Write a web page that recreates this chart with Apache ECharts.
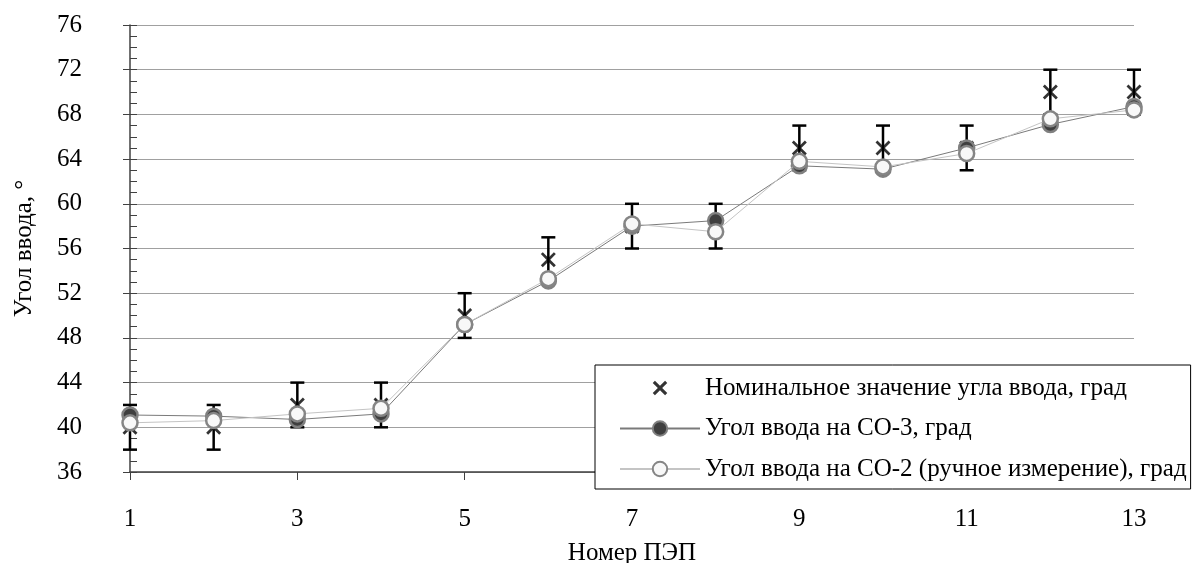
<!DOCTYPE html>
<html>
<head>
<meta charset="utf-8">
<script src="https://cdn.jsdelivr.net/npm/echarts@6/dist/echarts.min.js"></script>
<style>
html,body{margin:0;padding:0;background:#fff;}
#chart{width:1193px;height:563px;}
</style>
</head>
<body>
<div id="chart"></div>
<script>
var pepNumbers = [1,2,3,4,5,6,7,8,9,10,11,12,13];
var nominal = [40,40,42,42,50,55,58,58,65,65,65,70,70];
var tolerance = [2,2,2,2,2,2,2,2,2,2,2,2,2];
var co3 = [41.1,41.0,40.7,41.2,49.2,53.1,58.0,58.5,63.4,63.1,65.0,67.1,68.7];
var co2 = [40.4,40.6,41.2,41.7,49.2,53.3,58.2,57.5,63.8,63.3,64.5,67.6,68.4];
var xTicks = [1,3,5,7,9,11,13];
var yTicks = [36,40,44,48,52,56,60,64,68,72,76];

var nameNominal = 'Номинальное значение угла ввода, град';
var nameCO3 = 'Угол ввода на СО-3, град';
var nameCO2 = 'Угол ввода на СО-2 (ручное измерение), град';

var FONT = 'Liberation Serif';
var xPath = 'path://M0,1.3 L1.3,0 L5,3.7 L8.7,0 L10,1.3 L6.3,5 L10,8.7 L8.7,10 L5,6.3 L1.3,10 L0,8.7 L3.7,5 Z';
var xPathLegend = 'path://M-1.2,-1.2 L-1.19,-1.2 L-1.2,-1.19 Z M11.2,11.2 L11.19,11.2 L11.2,11.19 Z M0,1.5 L1.5,0 L5,3.5 L8.5,0 L10,1.5 L6.5,5 L10,8.5 L8.5,10 L5,6.5 L1.5,10 L0,8.5 L3.5,5 Z';

function pairs(xs, ys){ return xs.map(function(x,i){ return [x, ys[i]]; }); }
var errData = pepNumbers.map(function(x,i){ return [x, nominal[i]-tolerance[i], nominal[i]+tolerance[i]]; });

var chart = echarts.init(document.getElementById('chart'), null, {renderer:'canvas'});
chart.setOption({
  animation:false,
  backgroundColor:'#fff',
  textStyle:{fontFamily:FONT},
  grid:{left:130, right:59, top:25, bottom:91, containLabel:false, outerBoundsMode:'none'},
  legend:{
    orient:'vertical', left:595, top:365,
    padding:[10.5,4,7.5,24],
    itemWidth:80, itemHeight:18, itemGap:15.5,
    backgroundColor:'#fff', borderColor:'#000', borderWidth:1, borderRadius:0,
    textStyle:{fontFamily:FONT, fontSize:25, color:'#000', padding:[0,0,0,0]},
    data:[
      {name:nameNominal, icon:xPathLegend},
      {name:nameCO3},
      {name:nameCO2}
    ],
    z:10
  },
  xAxis:{
    type:'value', min:1, max:13, interval:2,
    name:'Номер ПЭП', nameLocation:'middle', nameGap:69,
    nameTextStyle:{fontFamily:FONT, fontSize:25, color:'#000'},
    axisLine:{show:true, onZero:false, lineStyle:{color:'#404040', width:1.5}},
    axisTick:{show:true, inside:false, length:8, lineStyle:{color:'#404040', width:1}},
    axisLabel:{fontFamily:FONT, fontSize:25, color:'#000', margin:35},
    splitLine:{show:false}
  },
  yAxis:[{
    type:'value', min:36, max:76, interval:4,
    name:'Угол ввода, °', nameLocation:'middle', nameGap:93,
    nameTextStyle:{fontFamily:FONT, fontSize:25, color:'#000'},
    axisLine:{show:true, lineStyle:{color:'#404040', width:1.5}},
    axisTick:{show:true, inside:true, length:7, lineStyle:{color:'#404040', width:1}},
    minorTick:{show:true, splitNumber:4, length:7, lineStyle:{color:'#404040', width:1}},
    axisLabel:{fontFamily:FONT, fontSize:25, color:'#000', margin:48,
      formatter:function(v){ return yTicks.indexOf(v) >= 0 ? String(v) : ''; }},
    splitLine:{show:true, lineStyle:{color:'#a0a0a0', width:1}}
  },{
    type:'value', min:36, max:76, interval:4, position:'left', offset:0,
    axisLine:{show:false},
    axisTick:{show:true, inside:false, length:7, lineStyle:{color:'#404040', width:1}},
    axisLabel:{show:false},
    splitLine:{show:false}
  }],
  series:[
    {
      name:'errbars', type:'custom', z:2,
      data:errData,
      encode:{x:0, y:[1,2]},
      renderItem:function(params, api){
        var x = api.value(0), lo = api.value(1), hi = api.value(2);
        var p1 = api.coord([x, lo]), p2 = api.coord([x, hi]);
        var st = {stroke:'#000', lineWidth:2.5};
        var hw = 7;
        return {type:'group', children:[
          {type:'line', shape:{x1:p1[0], y1:p1[1], x2:p2[0], y2:p2[1]}, style:st},
          {type:'line', shape:{x1:p1[0]-hw, y1:p1[1], x2:p1[0]+hw, y2:p1[1]}, style:st},
          {type:'line', shape:{x1:p2[0]-hw, y1:p2[1], x2:p2[0]+hw, y2:p2[1]}, style:st}
        ]};
      },
      silent:true
    },
    {
      name:nameNominal, type:'scatter', z:3,
      data:pairs(pepNumbers, nominal),
      symbol:xPath, symbolSize:15, symbolKeepAspect:true,
      itemStyle:{color:'#000'}
    },
    {
      name:nameCO3, type:'line', z:4,
      data:pairs(pepNumbers, co3),
      symbol:'circle', symbolSize:15, showAllSymbol:true,
      lineStyle:{color:'#7a7a7a', width:1},
      itemStyle:{color:'#3f3f3f', borderColor:'#808080', borderWidth:2.5}
    },
    {
      name:nameCO2, type:'line', z:5,
      data:pairs(pepNumbers, co2),
      symbol:'circle', symbolSize:15, showAllSymbol:true,
      lineStyle:{color:'#c4c4c4', width:1},
      itemStyle:{color:'#f8f8f8', borderColor:'#858585', borderWidth:2.5}
    }
  ]
});
</script>
</body>
</html>
